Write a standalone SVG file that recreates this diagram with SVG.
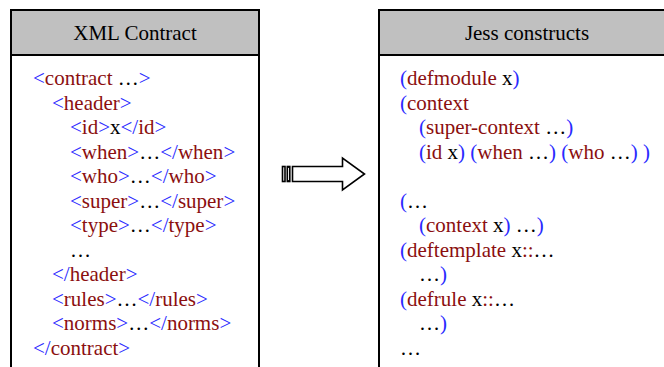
<svg xmlns="http://www.w3.org/2000/svg" width="664" height="367" viewBox="0 0 664 367">
  <style>
    .box { fill: #ffffff; stroke: #000000; stroke-width: 2; }
    .head { fill: #c0c0c0; stroke: #000000; stroke-width: 2; }
    text { font-family: "Liberation Serif", "Times New Roman", serif; font-size: 21px; fill: #000000; }
    .title { text-anchor: middle; }
    .b { fill: #2a2aff; }
    .r { fill: #8b0f0f; }
    .k { fill: #000000; }
    .arrow { fill: #ffffff; stroke: #000000; stroke-width: 1.6; stroke-linejoin: miter; }
  </style>

  <rect width="664" height="367" fill="#ffffff"/>

  <!-- Left panel: XML contract source -->
  <g id="xml-contract">
    <rect class="box" x="11" y="10" width="248" height="370"/>
    <rect class="head" x="11" y="10" width="248" height="45"/>
    <text class="title" x="135" y="40">XML Contract</text>
    <text xml:space="preserve">
      <tspan x="33" y="85"><tspan class="b">&lt;</tspan><tspan class="r">contract</tspan><tspan class="k"> …</tspan><tspan class="b">&gt;</tspan></tspan>
      <tspan x="52" y="109.5"><tspan class="b">&lt;</tspan><tspan class="r">header</tspan><tspan class="b">&gt;</tspan></tspan>
      <tspan x="70" y="134"><tspan class="b">&lt;</tspan><tspan class="r">id</tspan><tspan class="b">&gt;</tspan><tspan class="k">x</tspan><tspan class="b">&lt;/</tspan><tspan class="r">id</tspan><tspan class="b">&gt;</tspan></tspan>
      <tspan x="70" y="158.5"><tspan class="b">&lt;</tspan><tspan class="r">when</tspan><tspan class="b">&gt;</tspan><tspan class="k">…</tspan><tspan class="b">&lt;/</tspan><tspan class="r">when</tspan><tspan class="b">&gt;</tspan></tspan>
      <tspan x="70" y="183"><tspan class="b">&lt;</tspan><tspan class="r">who</tspan><tspan class="b">&gt;</tspan><tspan class="k">…</tspan><tspan class="b">&lt;/</tspan><tspan class="r">who</tspan><tspan class="b">&gt;</tspan></tspan>
      <tspan x="70" y="207.5"><tspan class="b">&lt;</tspan><tspan class="r">super</tspan><tspan class="b">&gt;</tspan><tspan class="k">…</tspan><tspan class="b">&lt;/</tspan><tspan class="r">super</tspan><tspan class="b">&gt;</tspan></tspan>
      <tspan x="70" y="232"><tspan class="b">&lt;</tspan><tspan class="r">type</tspan><tspan class="b">&gt;</tspan><tspan class="k">…</tspan><tspan class="b">&lt;/</tspan><tspan class="r">type</tspan><tspan class="b">&gt;</tspan></tspan>
      <tspan x="70" y="256.5" class="k">…</tspan>
      <tspan x="52" y="281"><tspan class="b">&lt;/</tspan><tspan class="r">header</tspan><tspan class="b">&gt;</tspan></tspan>
      <tspan x="52" y="305.5"><tspan class="b">&lt;</tspan><tspan class="r">rules</tspan><tspan class="b">&gt;</tspan><tspan class="k">…</tspan><tspan class="b">&lt;/</tspan><tspan class="r">rules</tspan><tspan class="b">&gt;</tspan></tspan>
      <tspan x="52" y="330"><tspan class="b">&lt;</tspan><tspan class="r">norms</tspan><tspan class="b">&gt;</tspan><tspan class="k">…</tspan><tspan class="b">&lt;/</tspan><tspan class="r">norms</tspan><tspan class="b">&gt;</tspan></tspan>
      <tspan x="33" y="354.5"><tspan class="b">&lt;/</tspan><tspan class="r">contract</tspan><tspan class="b">&gt;</tspan></tspan>
    </text>
  </g>

  <!-- Right panel: generated Jess constructs -->
  <g id="jess-constructs">
    <rect class="box" x="379" y="10" width="300" height="370"/>
    <rect class="head" x="379" y="10" width="300" height="45"/>
    <text class="title" x="527" y="40">Jess constructs</text>
    <text xml:space="preserve">
      <tspan x="400" y="85"><tspan class="b">(</tspan><tspan class="r">defmodule</tspan><tspan class="k"> x</tspan><tspan class="b">)</tspan></tspan>
      <tspan x="400" y="109.5"><tspan class="b">(</tspan><tspan class="r">context</tspan></tspan>
      <tspan x="419" y="134"><tspan class="b">(</tspan><tspan class="r">super-context</tspan><tspan class="k"> …</tspan><tspan class="b">)</tspan></tspan>
      <tspan x="419" y="158.5"><tspan class="b">(</tspan><tspan class="r">id</tspan><tspan class="k"> x</tspan><tspan class="b">)</tspan> <tspan class="b">(</tspan><tspan class="r">when</tspan><tspan class="k"> …</tspan><tspan class="b">)</tspan> <tspan class="b">(</tspan><tspan class="r">who</tspan><tspan class="k"> …</tspan><tspan class="b">) )</tspan></tspan>
      <tspan x="400" y="208"><tspan class="b">(</tspan><tspan class="k">…</tspan></tspan>
      <tspan x="419" y="232"><tspan class="b">(</tspan><tspan class="r">context</tspan><tspan class="k"> x</tspan><tspan class="b">)</tspan><tspan class="k"> …</tspan><tspan class="b">)</tspan></tspan>
      <tspan x="400" y="256.5"><tspan class="b">(</tspan><tspan class="r">deftemplate</tspan><tspan class="k"> x</tspan><tspan class="r">::</tspan><tspan class="k">…</tspan></tspan>
      <tspan x="419" y="281"><tspan class="k">…</tspan><tspan class="b">)</tspan></tspan>
      <tspan x="400" y="305.5"><tspan class="b">(</tspan><tspan class="r">defrule</tspan><tspan class="k"> x</tspan><tspan class="r">::</tspan><tspan class="k">…</tspan></tspan>
      <tspan x="419" y="330"><tspan class="k">…</tspan><tspan class="b">)</tspan></tspan>
      <tspan x="400" y="354.5" class="k">…</tspan>
    </text>
  </g>

  <!-- Transformation arrow between the panels -->
  <g id="connectors">
    <rect class="arrow" x="282.5" y="166.5" width="2.5" height="15"/>
    <rect class="arrow" x="287.3" y="166.5" width="2.5" height="15"/>
    <path class="arrow" d="M292.5,166.5 H342.5 V158 L364.5,174 L342.5,190 V181.5 H292.5 Z"/>
  </g>
</svg>
